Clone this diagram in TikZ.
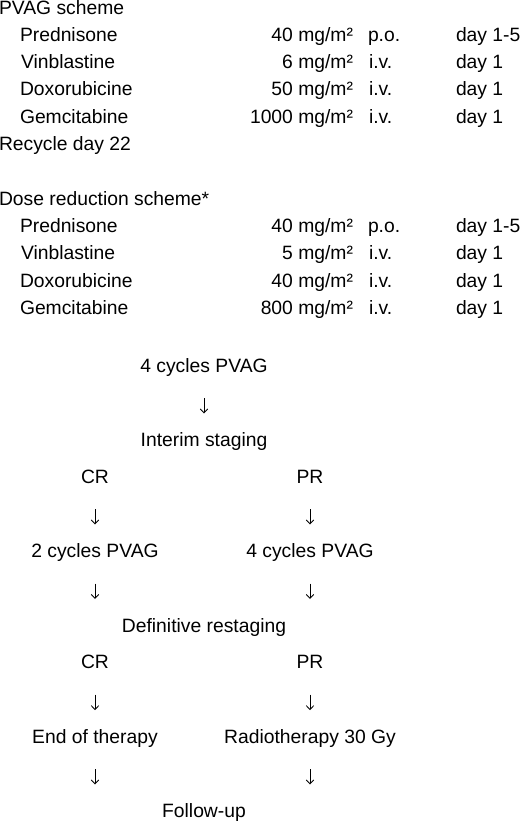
\documentclass[tikz,border=0pt]{standalone}
\usepackage{fontspec}
\setmainfont{Liberation Sans}
\usetikzlibrary{arrows.meta}
\begin{document}
\begin{tikzpicture}[x=1pt,y=-1pt,
  every node/.style={inner sep=0pt, outer sep=0pt, font=\fontsize{19.3}{22}\selectfont},
  lt/.style={anchor=base west},
  rt/.style={anchor=base east},
  ct/.style={anchor=base},
  downarrow/.style={line width=0.85pt, -{Straight Barb[length=4pt,width=7.5pt,line width=0.85pt]}}]
\useasboundingbox (0,0) rectangle (520,822);
% PVAG scheme
\node[lt] (t1) at (-1,14) {PVAG scheme};
\node[lt] (a1) at (20,41.3) {Prednisone};
\node[rt] (a1d) at (353,41.3) {40 mg/m²};
\node[lt] (a1r) at (368,41.3) {p.o.};
\node[lt] (a1t) at (456,41.3) {day 1-5};
\node[lt] (a2) at (21,68.6) {Vinblastine};
\node[rt] (a2d) at (353,68.6) {6 mg/m²};
\node[lt] (a2r) at (369,68.6) {i.v.};
\node[lt] (a2t) at (456,68.6) {day 1};
\node[lt] (a3) at (20,95.9) {Doxorubicine};
\node[rt] (a3d) at (353,95.9) {50 mg/m²};
\node[lt] (a3r) at (369,95.9) {i.v.};
\node[lt] (a3t) at (456,95.9) {day 1};
\node[lt] (a4) at (20,123.2) {Gemcitabine};
\node[rt] (a4d) at (353,123.2) {1000 mg/m²};
\node[lt] (a4r) at (369,123.2) {i.v.};
\node[lt] (a4t) at (456,123.2) {day 1};
\node[lt] (t2) at (-1,150.5) {Recycle day 22};
% Dose reduction scheme
\node[lt] (t3) at (-1,205.1) {Dose reduction scheme*};
\node[lt] (b1) at (20,232.4) {Prednisone};
\node[rt] (b1d) at (353,232.4) {40 mg/m²};
\node[lt] (b1r) at (368,232.4) {p.o.};
\node[lt] (b1t) at (456,232.4) {day 1-5};
\node[lt] (b2) at (21,259.7) {Vinblastine};
\node[rt] (b2d) at (353,259.7) {5 mg/m²};
\node[lt] (b2r) at (369,259.7) {i.v.};
\node[lt] (b2t) at (456,259.7) {day 1};
\node[lt] (b3) at (20,287) {Doxorubicine};
\node[rt] (b3d) at (353,287) {40 mg/m²};
\node[lt] (b3r) at (369,287) {i.v.};
\node[lt] (b3t) at (456,287) {day 1};
\node[lt] (b4) at (20,314.3) {Gemcitabine};
\node[rt] (b4d) at (353,314.3) {800 mg/m²};
\node[lt] (b4r) at (369,314.3) {i.v.};
\node[lt] (b4t) at (456,314.3) {day 1};
% Flow
\node[ct] (f1) at (204,372) {4 cycles PVAG};
\node[ct] (f2) at (204,446) {Interim staging};
\node[ct] (cr1) at (95,483) {CR};
\node[ct] (pr1) at (310,483) {PR};
\node[ct] (f3) at (95,557) {2 cycles PVAG};
\node[ct] (f4) at (310,557) {4 cycles PVAG};
\node[ct] (f5) at (204,632) {Definitive restaging};
\node[ct] (cr2) at (95,668.6) {CR};
\node[ct] (pr2) at (310,668.6) {PR};
\node[ct] (f6) at (95,743) {End of therapy};
\node[ct] (f7) at (310,743) {Radiotherapy 30 Gy};
\node[ct] (f8) at (204,817) {Follow-up};
% arrow coordinates
\coordinate (ar1s) at (204,398); \coordinate (ar1e) at (204,413.5);
\coordinate (ar2s) at (95,509);  \coordinate (ar2e) at (95,524.5);
\coordinate (ar3s) at (310,509); \coordinate (ar3e) at (310,524.5);
\coordinate (ar4s) at (95,583.5); \coordinate (ar4e) at (95,599);
\coordinate (ar5s) at (310,583.5); \coordinate (ar5e) at (310,599);
\coordinate (ar6s) at (95,694.7); \coordinate (ar6e) at (95,710.2);
\coordinate (ar7s) at (310,694.7); \coordinate (ar7e) at (310,710.2);
\coordinate (ar8s) at (95,769); \coordinate (ar8e) at (95,784.5);
\coordinate (ar9s) at (310,769); \coordinate (ar9e) at (310,784.5);
\foreach \i in {1,...,9} {\draw[downarrow] (ar\i s) -- (ar\i e);}
\end{tikzpicture}
\end{document}
